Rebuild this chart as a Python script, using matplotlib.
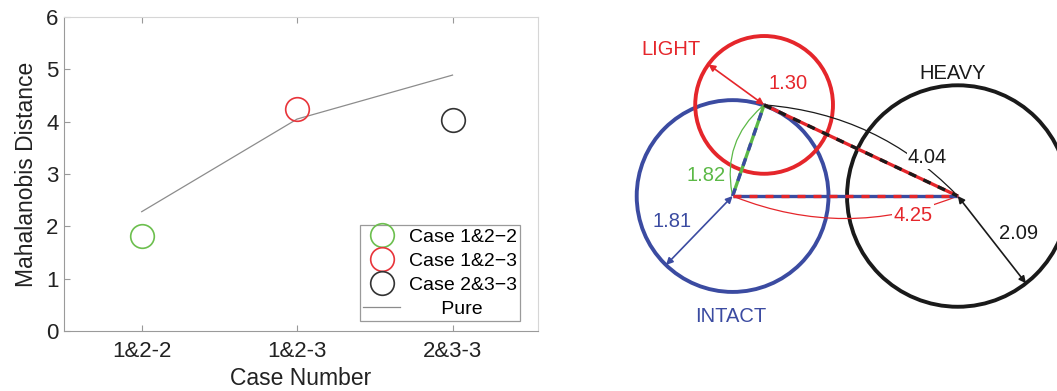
import numpy as np
import matplotlib.pyplot as plt
from matplotlib.patches import Circle, FancyArrowPatch

plt.rcParams["font.family"] = ["Liberation Sans", "DejaVu Sans"]

# left panel data
cases = ["1&2-2", "1&2-3", "2&3-3"]
case_labels = ["Case 1&2\u22122", "Case 1&2\u22123", "Case 2&3\u22123"]
case_dist = [1.82, 4.25, 4.04]
pure_dist = [2.28, 4.05, 4.89]
case_colors = ["#6cbf4e", "#e8343a", "#333333"]

# right panel data: group spread (radius) and pairwise distances
groups = ["INTACT", "LIGHT", "HEAVY"]
radius = {"INTACT": 1.81, "LIGHT": 1.30, "HEAVY": 2.09}
d_intact_light = 1.82
d_intact_heavy = 4.25
d_light_heavy = 4.04

RED = "#e5262b"
BLUE = "#3b4ba1"
BLACK = "#1a1a1a"
GREEN = "#5cb947"

fig = plt.figure(figsize=(10.57, 3.91), dpi=100)

# ---------------- left: Mahalanobis distance per case ----------------
ax = fig.add_axes([64 / 1057, 60 / 391, 474 / 1057, 314 / 391])
x = np.arange(1, len(cases) + 1)
for xi, d, c, lab in zip(x, case_dist, case_colors, case_labels):
    ax.plot(xi, d, "o", ms=17, mfc="none", mec=c, mew=1.2, label=lab, zorder=3)
ax.plot(x, pure_dist, color="#8c8c8c", lw=0.9, label="      Pure", zorder=2)

ax.set_xlim(0.5, 3.55)
ax.set_ylim(0, 6)
ax.set_xticks(x)
ax.set_xticklabels(cases)
ax.set_yticks(range(0, 7))
ax.tick_params(direction="in", length=4, color="#999999", labelsize=16,
               labelcolor="#222222", top=True, right=False, pad=7)
ax.tick_params(axis="y", pad=4)
for side in ["left", "bottom"]:
    ax.spines[side].set_color("#9a9a9a")
for side in ["top", "right"]:
    ax.spines[side].set_color("#d6d6d6")
ax.set_xlabel("Case Number", fontsize=16.5, color="#222222", labelpad=4)
ax.set_ylabel("Mahalanobis Distance", fontsize=16.5, color="#222222", labelpad=6)

leg = ax.legend(loc="lower right", bbox_to_anchor=(0.962, 0.032),
                borderaxespad=0, fontsize=14, fancybox=False,
                edgecolor="#9a9a9a", framealpha=1, labelspacing=0.33,
                handlelength=1.9, handletextpad=0.45, borderpad=0.15)
leg.get_frame().set_linewidth(0.9)

# ---------------- right: group diagram ----------------
ar = fig.add_axes([600 / 1057, 0, 457 / 1057, 1])
ar.set_xlim(-2.5, 6.12)
ar.set_ylim(-3.68, 3.70)
ar.set_aspect("equal")
ar.axis("off")

# place centres from the pairwise distances
c_int = np.array([0.0, 0.0])
c_hvy = np.array([d_intact_heavy, 0.0])
lx = (d_intact_light**2 - d_light_heavy**2 + d_intact_heavy**2) / (2 * d_intact_heavy)
ly = np.sqrt(d_intact_light**2 - lx**2)
c_lgt = np.array([lx, ly])
centers = {"INTACT": c_int, "LIGHT": c_lgt, "HEAVY": c_hvy}
colors = {"INTACT": BLUE, "LIGHT": RED, "HEAVY": BLACK}

for g in groups:
    ar.add_patch(Circle(centers[g], radius[g], fill=False, ec=colors[g], lw=2.8, zorder=2))


def two_tone(p, q, base, dash):
    ar.plot([p[0], q[0]], [p[1], q[1]], color=base, lw=2.4, zorder=4,
            solid_capstyle="butt")
    ar.plot([p[0], q[0]], [p[1], q[1]], color=dash, lw=2.4, zorder=5,
            dashes=(2.4, 2.4), solid_capstyle="butt", dash_capstyle="butt")


two_tone(c_int, c_lgt, GREEN, BLUE)
two_tone(c_lgt, c_hvy, RED, BLACK)
two_tone(c_int, c_hvy, BLUE, RED)


def arc(p, q, rad, color):
    ar.add_patch(FancyArrowPatch(p, q, connectionstyle=f"arc3,rad={rad}",
                                 arrowstyle="-", color=color, lw=0.9, zorder=3))


arc(c_int, c_lgt, -0.3, GREEN)
arc(c_lgt, c_hvy, -0.19, BLACK)
arc(c_int, c_hvy, 0.2, RED)


def radius_arrow(g, angle):
    c = centers[g]
    t = np.deg2rad(angle)
    end = c + radius[g] * np.array([np.cos(t), np.sin(t)])
    ar.add_patch(FancyArrowPatch(c, end, arrowstyle="<|-|>", mutation_scale=10,
                                 color=colors[g], lw=1.2, shrinkA=0, shrinkB=0,
                                 zorder=6))


radius_arrow("LIGHT", 144)
radius_arrow("INTACT", 226)
radius_arrow("HEAVY", -52)

fs = 14.5
white = dict(facecolor="white", edgecolor="none", pad=1)
ar.text(*(c_lgt + [-1.75, 1.05]), "LIGHT", color=RED, fontsize=fs, ha="center", va="center")
ar.text(*(c_lgt + [0.45, 0.4]), f"{radius['LIGHT']:.2f}", color=RED, fontsize=fs,
        ha="center", va="center")
ar.text(*(c_hvy + [-0.09, 2.32]), "HEAVY", color=BLACK, fontsize=fs, ha="center", va="center")
ar.text(*(c_hvy + [-0.57, 0.72]), f"{d_light_heavy:.2f}", color=BLACK, fontsize=fs,
        ha="center", va="center", bbox=white, zorder=7)
ar.text(*(c_int + [-0.5, 0.38]), f"{d_intact_light:.2f}", color=GREEN, fontsize=fs,
        ha="center", va="center")
ar.text(*(c_int + [-1.14, -0.49]), f"{radius['INTACT']:.2f}", color=BLUE, fontsize=fs,
        ha="center", va="center")
ar.text(*(c_hvy + [-0.85, -0.36]), f"{d_intact_heavy:.2f}", color=RED, fontsize=fs,
        ha="center", va="center", bbox=white, zorder=7)
ar.text(*(c_hvy + [1.15, -0.70]), f"{radius['HEAVY']:.2f}", color=BLACK, fontsize=fs,
        ha="center", va="center")
ar.text(*(c_int + [-0.03, -2.28]), "INTACT", color=BLUE, fontsize=fs, ha="center", va="center")

fig.savefig("out.png", dpi=100)
